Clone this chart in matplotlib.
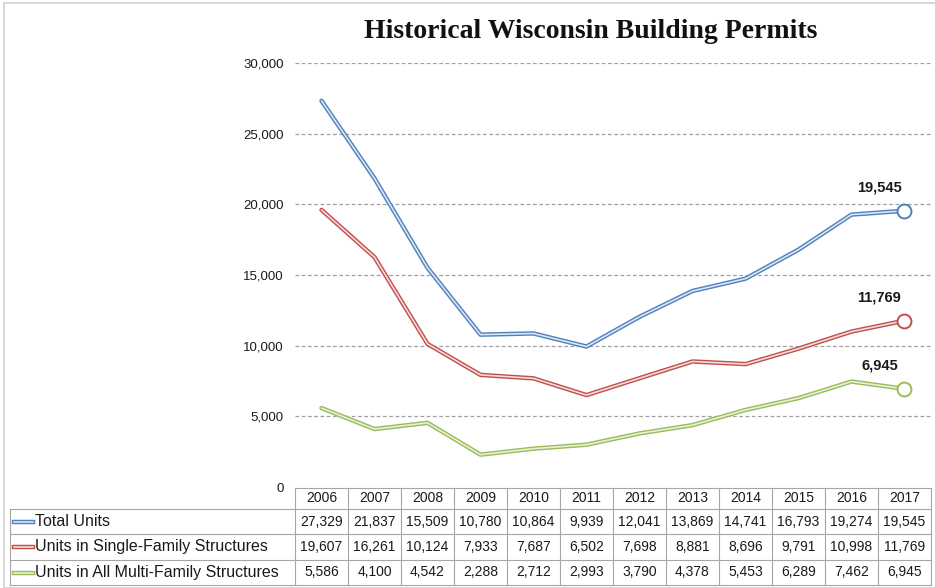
import numpy as np
import matplotlib.pyplot as plt
from matplotlib.lines import Line2D
from matplotlib.patches import Rectangle
import matplotlib.transforms as mtransforms

years = ['2006', '2007', '2008', '2009', '2010', '2011',
         '2012', '2013', '2014', '2015', '2016', '2017']
total = [27329, 21837, 15509, 10780, 10864, 9939, 12041, 13869, 14741, 16793, 19274, 19545]
single = [19607, 16261, 10124, 7933, 7687, 6502, 7698, 8881, 8696, 9791, 10998, 11769]
multi = [5586, 4100, 4542, 2288, 2712, 2993, 3790, 4378, 5453, 6289, 7462, 6945]
names = ['Total Units', 'Units in Single-Family Structures', 'Units in All Multi-Family Structures']
colors = ['#4f81bd', '#c0504d', '#9bbb59']
inner = ['#dbe5f4', '#f3dcdb', '#e8f0da']

W, H = 935, 588
fig = plt.figure(figsize=(W/100, H/100), dpi=100)
sans = ['Liberation Sans', 'DejaVu Sans']
tc = '#1a1a1a'

ax = fig.add_axes([295/W, (H-487)/H, 636/W, 424/H])
x = np.arange(len(years))
for vals, c, ic in zip([total, single, multi], colors, inner):
    ax.plot(x, vals, color=c, lw=3.2, solid_capstyle='round', zorder=3)
    ax.plot(x, vals, color=ic, lw=1.2, solid_capstyle='round', zorder=4)
    ax.plot(x[-1], vals[-1], 'o', ms=10, mfc='white', mec=c, mew=1.4, zorder=5)
    ax.annotate(f'{vals[-1]:,}', (x[-1], vals[-1]), xytext=(-18, 17),
                textcoords='offset points', ha='center', va='center',
                fontsize=10.5, fontweight='bold', family=sans, color=tc)

ax.set_xlim(-0.5, len(years) - 0.5)
ax.set_ylim(0, 30000)
ax.set_yticks(np.arange(0, 30001, 5000))
ax.set_yticklabels([f'{v:,}' for v in range(0, 30001, 5000)], family=sans, fontsize=9.5)
ax.tick_params(axis='y', length=0, pad=8, colors=tc)
ax.set_xticks([])
for s in ax.spines.values():
    s.set_visible(False)
for v in range(5000, 30001, 5000):
    ax.axhline(v, color='#a0a0a0', lw=0.9, ls=(0, (3, 2)), zorder=1)

# data table below the plot
tr = mtransforms.blended_transform_factory(ax.transData, fig.transFigure)
rows_y = [(H - 488)/H, (H - 509)/H, (H - 534)/H, (H - 560)/H, (H - 585)/H]
lc = '#a6a6a6'
for i in range(len(years) + 1):
    fig.add_artist(Line2D([i - 0.5, i - 0.5], [rows_y[0], rows_y[-1]], transform=tr, color=lc, lw=0.8))
fig.add_artist(Line2D([-0.5, len(years) - 0.5], [rows_y[0], rows_y[0]], transform=tr, color=lc, lw=0.8))
for yy in rows_y[1:]:
    fig.add_artist(Line2D([10/W, 931/W], [yy, yy], transform=fig.transFigure, color=lc, lw=0.8))
fig.add_artist(Line2D([10/W, 10/W], [rows_y[1], rows_y[-1]], transform=fig.transFigure, color=lc, lw=0.8))

for i, yr in enumerate(years):
    fig.text(i, (rows_y[0] + rows_y[1]) / 2, yr, transform=tr, ha='center', va='center',
             fontsize=10, family=sans, color=tc)
for r, (vals, nm, c, ic) in enumerate(zip([total, single, multi], names, colors, inner)):
    yc = (rows_y[r + 1] + rows_y[r + 2]) / 2
    fig.add_artist(Line2D([14/W, 33/W], [yc, yc], transform=fig.transFigure, color=c, lw=3.2))
    fig.add_artist(Line2D([14/W, 33/W], [yc, yc], transform=fig.transFigure, color=ic, lw=1.2))
    fig.text(35/W, yc, nm, ha='left', va='center', fontsize=11.5, family=sans, color=tc)
    for i, v in enumerate(vals):
        fig.text(i, yc, f'{v:,}', transform=tr, ha='center', va='center',
                 fontsize=10, family=sans, color=tc)

fig.text(591/W, (H - 31)/H, 'Historical Wisconsin Building Permits', ha='center', va='center',
         fontsize=20, fontweight='bold', family=['Liberation Serif', 'DejaVu Serif'], color='#111111')

fig.add_artist(Rectangle((4/W, 0), 1, (H - 3)/H, transform=fig.transFigure,
                         fill=False, edgecolor='#d0d0d0', lw=1.2))

fig.savefig('out.png', dpi=100)
